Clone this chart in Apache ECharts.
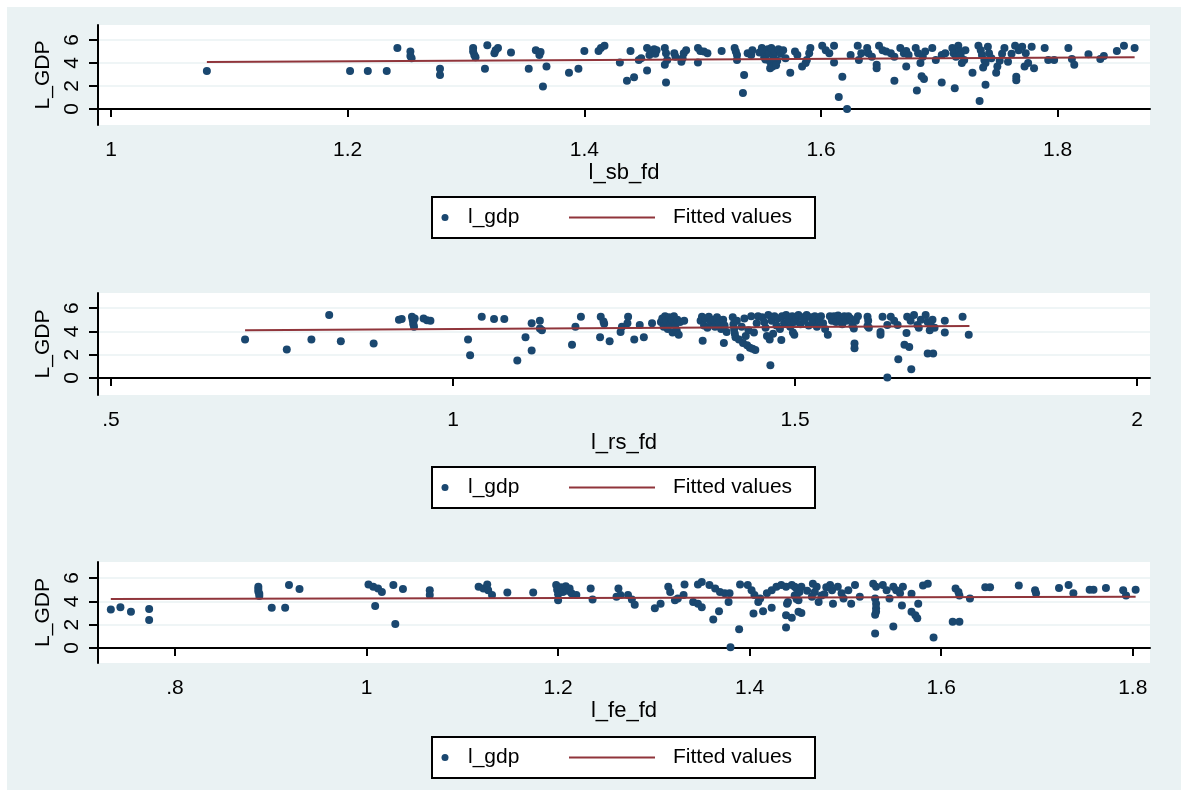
<!DOCTYPE html>
<html>
<head>
<meta charset="utf-8">
<script src="https://cdn.jsdelivr.net/npm/echarts@6/dist/echarts.min.js"></script>
<style>
  html, body { margin: 0; padding: 0; background: #fff; }
  #main { width: 1181px; height: 790px; }
</style>
</head>
<body>
<div id="main"></div>
<script>
// l_gdp against l_sb_fd
const sbPoints = [
  [1.081,3.3],[1.202,3.3],[1.217,3.3],[1.233,3.3],[1.242,5.3],
  [1.253,5.0],[1.253,4.6],[1.254,4.4],[1.278,3.5],[1.278,2.95],
  [1.306,5.3],[1.306,5.0],[1.307,4.7],[1.308,4.5],[1.316,3.5],[1.318,5.55],
  [1.324,4.85],[1.325,5.1],[1.327,5.3],[1.338,4.9],[1.353,3.5],[1.359,5.1],
  [1.362,4.7],[1.363,4.95],[1.365,1.95],[1.368,3.7],[1.387,3.15],[1.395,3.5],
  [1.400,5.05],[1.412,5.05],[1.414,5.3],[1.417,5.5],[1.430,4.05],[1.436,2.45],
  [1.439,5.05],[1.442,2.75],[1.446,4.25],[1.448,4.4],[1.453,3.35],[1.453,5.3],
  [1.455,4.7],[1.457,5.0],[1.459,5.2],[1.460,4.8],[1.461,5.1],[1.468,5.3],
  [1.469,4.85],[1.470,4.25],[1.468,3.85],[1.469,2.3],[1.476,4.85],[1.477,4.55],
  [1.482,4.1],[1.483,4.4],[1.484,4.85],[1.486,5.1],[1.496,5.3],[1.498,5.05],
  [1.501,5.0],[1.504,4.85],[1.496,4.05],[1.516,5.05],[1.527,5.3],[1.528,5.0],
  [1.529,4.7],[1.529,4.25],[1.534,1.4],[1.535,2.95],[1.538,4.85],[1.541,4.7],
  [1.542,5.1],[1.548,4.9],[1.550,5.3],[1.551,5.0],[1.552,4.5],[1.553,4.3],
  [1.555,5.2],[1.556,4.8],[1.557,4.1],[1.558,5.3],[1.560,4.6],[1.561,5.0],
  [1.563,4.2],[1.564,5.2],[1.566,4.8],[1.568,5.1],[1.570,4.4],[1.557,3.55],
  [1.559,3.7],[1.562,3.8],[1.574,3.15],[1.578,5.0],[1.580,4.7],[1.584,3.7],
  [1.587,4.0],[1.588,4.25],[1.590,4.85],[1.591,5.3],[1.601,5.5],[1.604,5.1],
  [1.607,4.85],[1.611,5.5],[1.611,4.05],[1.615,1.05],[1.618,2.8],[1.622,0.0],
  [1.625,4.7],[1.631,5.5],[1.632,4.25],[1.634,4.85],[1.639,5.3],[1.640,4.85],
  [1.643,4.55],[1.647,3.85],[1.647,3.55],[1.649,5.5],[1.652,5.1],[1.655,5.0],
  [1.659,4.85],[1.662,4.55],[1.662,2.45],[1.667,5.3],[1.670,4.85],[1.672,5.05],
  [1.674,4.7],[1.672,3.7],[1.681,1.6],[1.680,5.3],[1.682,4.85],[1.684,4.0],
  [1.686,4.55],[1.688,5.0],[1.694,5.3],[1.685,2.85],[1.687,2.6],[1.697,4.25],
  [1.702,4.7],[1.705,4.85],[1.702,2.3],[1.713,1.8],[1.711,5.3],[1.712,4.85],
  [1.714,4.55],[1.716,5.5],[1.717,5.0],[1.718,4.7],[1.719,4.0],[1.721,4.25],
  [1.722,5.1],[1.728,3.15],[1.734,0.7],[1.739,2.1],[1.733,5.5],[1.735,5.1],
  [1.736,4.7],[1.738,4.25],[1.739,4.0],[1.741,5.4],[1.742,4.85],[1.744,4.4],
  [1.737,3.6],[1.748,3.15],[1.749,3.7],[1.751,4.2],[1.753,4.8],[1.755,5.3],
  [1.758,4.1],[1.761,4.8],[1.765,2.8],[1.765,2.5],[1.764,5.5],[1.767,5.1],
  [1.770,5.4],[1.773,4.85],[1.772,3.7],[1.775,4.0],[1.778,5.4],[1.780,3.55],
  [1.789,5.3],[1.792,4.25],[1.797,4.25],[1.809,5.3],[1.812,4.35],[1.814,3.85],
  [1.826,4.75],[1.836,4.35],[1.839,4.6],[1.850,5.05],[1.856,5.5],[1.865,5.3]
];

// l_gdp against l_rs_fd
const rsPoints = [
  [0.696,3.3],[0.757,2.45],[0.793,3.3],[0.819,5.4],[0.836,3.15],[0.884,2.95],
  [0.921,5.0],[0.925,5.05],[0.940,5.25],[0.941,5.0],[0.942,4.8],[0.942,4.6],
  [0.943,4.4],[0.944,5.1],[0.957,5.1],[0.962,4.95],[0.967,4.9],[1.022,3.3],
  [1.025,1.95],[1.042,5.25],[1.060,5.05],[1.075,5.05],[1.094,1.5],[1.106,3.5],
  [1.115,2.35],[1.115,4.7],[1.127,4.9],[1.127,4.25],[1.130,4.1],[1.174,2.85],
  [1.179,4.4],[1.187,5.25],[1.215,3.5],[1.216,5.25],[1.220,4.85],[1.221,4.65],
  [1.229,3.15],[1.245,3.95],[1.247,4.4],[1.256,5.25],[1.255,4.7],[1.265,3.3],
  [1.273,4.55],[1.279,3.5],[1.291,4.7],[1.304,4.8],[1.306,5.1],[1.308,4.4],
  [1.310,5.3],[1.312,4.9],[1.314,4.2],[1.316,5.2],[1.318,4.6],[1.320,5.0],
  [1.321,3.9],[1.323,5.3],[1.325,4.5],[1.327,4.1],[1.328,5.0],[1.330,3.7],
  [1.332,4.8],[1.338,4.9],[1.365,3.2],[1.362,4.9],[1.364,5.25],[1.367,4.5],
  [1.369,5.1],[1.372,4.3],[1.374,5.25],[1.377,4.8],[1.380,5.0],[1.383,4.4],
  [1.386,5.2],[1.389,4.7],[1.392,4.2],[1.395,5.0],[1.397,4.5],[1.400,3.95],
  [1.396,3.0],[1.409,5.2],[1.410,4.6],[1.411,4.2],[1.412,3.8],[1.413,3.5],
  [1.415,4.9],[1.418,3.3],[1.420,1.75],[1.422,4.4],[1.424,3.0],[1.426,5.1],
  [1.428,3.6],[1.430,2.8],[1.432,4.1],[1.434,2.6],[1.436,5.3],[1.438,2.5],
  [1.440,3.9],[1.442,2.4],[1.444,4.7],[1.446,5.3],[1.464,1.1],[1.452,5.2],
  [1.455,4.8],[1.457,4.3],[1.459,3.6],[1.461,5.4],[1.463,3.3],[1.466,4.9],
  [1.468,3.8],[1.470,5.3],[1.473,4.5],[1.475,5.1],[1.478,4.2],[1.480,3.25],
  [1.481,5.3],[1.484,4.7],[1.487,5.4],[1.490,5.0],[1.493,4.4],[1.496,5.3],
  [1.497,3.9],[1.499,3.7],[1.499,4.8],[1.502,5.1],[1.505,5.4],[1.508,4.6],
  [1.511,5.2],[1.514,4.9],[1.517,5.4],[1.520,4.5],[1.523,5.2],[1.526,4.8],
  [1.529,5.3],[1.532,4.4],[1.535,5.0],[1.538,5.3],[1.541,4.7],[1.544,4.2],
  [1.548,3.7],[1.551,5.3],[1.554,4.9],[1.557,5.3],[1.560,4.8],[1.563,5.35],
  [1.566,5.0],[1.569,4.6],[1.572,5.3],[1.575,4.9],[1.578,5.3],[1.581,5.1],
  [1.584,4.5],[1.586,4.25],[1.587,2.95],[1.587,2.55],[1.589,4.9],[1.592,5.3],
  [1.606,5.25],[1.607,4.9],[1.606,4.45],[1.608,4.3],[1.625,3.95],[1.625,3.7],
  [1.628,5.25],[1.635,4.55],[1.640,5.25],[1.645,4.9],[1.650,4.55],[1.651,1.6],
  [1.635,0.05],[1.660,2.85],[1.667,2.65],[1.670,0.75],[1.663,3.85],[1.664,5.25],
  [1.669,4.9],[1.674,5.4],[1.679,4.55],[1.681,4.3],[1.684,5.0],[1.691,5.4],
  [1.694,4.8],[1.699,4.45],[1.697,4.1],[1.701,5.0],[1.704,4.3],[1.694,2.1],
  [1.702,2.1],[1.719,4.9],[1.719,3.9],[1.745,5.25],[1.754,3.7]
];

// l_gdp against l_fe_fd
const fePoints = [
  [0.733,3.3],[0.743,3.5],[0.754,3.1],[0.773,3.35],[0.773,2.4],
  [0.887,5.25],[0.887,5.05],[0.887,4.85],[0.888,4.65],[0.888,4.45],
  [0.901,3.45],[0.915,3.45],[0.919,5.4],[0.930,5.05],[1.002,5.45],[1.007,5.25],
  [1.012,5.1],[1.016,4.8],[1.009,3.6],[1.028,5.4],[1.030,2.05],[1.038,5.05],
  [1.066,4.95],[1.066,4.55],[1.117,5.25],[1.122,5.1],[1.126,5.45],[1.127,4.95],
  [1.131,4.55],[1.147,4.75],[1.174,4.75],[1.198,5.4],[1.199,5.0],[1.200,4.6],
  [1.200,4.1],[1.203,5.2],[1.205,4.8],[1.208,5.3],[1.210,4.9],[1.212,5.1],
  [1.214,4.7],[1.219,4.55],[1.234,5.1],[1.236,4.15],[1.263,5.1],[1.261,4.4],
  [1.265,4.55],[1.273,4.55],[1.277,4.15],[1.280,3.7],[1.301,3.4],[1.307,3.8],
  [1.315,5.25],[1.317,4.8],[1.322,4.1],[1.325,4.25],[1.331,4.55],[1.332,5.45],
  [1.341,3.95],[1.346,3.8],[1.350,3.5],[1.346,5.45],[1.350,5.65],[1.358,5.4],
  [1.364,5.1],[1.369,4.8],[1.374,4.7],[1.379,4.7],[1.378,3.95],[1.362,2.45],
  [1.368,3.15],[1.389,1.6],[1.380,0.05],[1.390,5.45],[1.398,5.4],[1.402,4.95],
  [1.405,4.55],[1.409,3.95],[1.411,4.25],[1.404,2.95],[1.414,3.15],[1.423,3.45],
  [1.418,4.7],[1.423,4.95],[1.428,5.25],[1.433,5.4],[1.438,5.25],[1.440,3.95],
  [1.438,2.8],[1.444,2.6],[1.438,1.75],[1.447,5.25],[1.449,4.55],[1.451,3.1],
  [1.444,5.4],[1.449,5.1],[1.452,4.8],[1.454,5.25],[1.447,4.5],[1.451,4.1],
  [1.466,5.5],[1.470,5.25],[1.468,4.8],[1.465,4.4],[1.472,3.95],[1.475,4.5],
  [1.484,5.4],[1.486,4.95],[1.487,3.8],[1.492,5.25],[1.496,4.7],[1.498,4.25],
  [1.503,4.95],[1.506,3.8],[1.510,5.4],[1.515,4.4],[1.439,3.8],[1.454,3.0],
  [1.449,4.2],[1.460,4.9],[1.478,4.6],[1.480,5.2],[1.529,5.5],[1.532,5.25],
  [1.531,4.25],[1.532,3.8],[1.532,3.4],[1.531,2.85],[1.532,3.1],[1.531,1.25],
  [1.539,5.4],[1.543,4.95],[1.546,4.25],[1.550,5.25],[1.553,4.95],[1.557,4.7],
  [1.560,5.25],[1.550,1.85],[1.559,3.65],[1.569,3.1],[1.573,2.8],[1.575,2.55],
  [1.576,3.8],[1.569,4.65],[1.581,5.35],[1.586,5.5],[1.592,0.9],[1.612,2.25],
  [1.619,2.25],[1.615,5.1],[1.618,4.8],[1.619,4.5],[1.630,4.25],[1.646,5.2],
  [1.651,5.2],[1.681,5.35],[1.698,4.95],[1.699,4.7],[1.723,5.15],[1.733,5.4],
  [1.738,4.7],[1.755,5.0],[1.759,5.0],[1.772,5.15],[1.790,4.95],[1.793,4.5],
  [1.803,5.0]
];

// fitted values (end points of each regression line)
const sbFit = [[1.081, 4.08], [1.865, 4.5]];
const rsFit = [[0.696, 4.1], [1.755, 4.46]];
const feFit = [[0.733, 4.2], [1.803, 4.4]];

const sbTicks = [1, 1.2, 1.4, 1.6, 1.8];
const rsTicks = [0.5, 1, 1.5, 2];
const feTicks = [0.8, 1, 1.2, 1.4, 1.6, 1.8];
const yTicks = [0, 2, 4, 6];
const xNames = ['l_sb_fd', 'l_rs_fd', 'l_fe_fd'];
const legendNames = ['l_gdp', 'Fitted values'];

const NAVY = '#1a476f';
const MAROON = '#90353b';
const BG = '#eaf2f3';
const FONT = '"Liberation Sans", Arial, sans-serif';

const panels = [
  { pts: sbPoints, fit: sbFit, ticks: sbTicks, top: 25, height: 100, xmin: 0.989, xmax: 1.878, ymin: -1.39, ymax: 7.30, legendTop: 197 },
  { pts: rsPoints, fit: rsFit, ticks: rsTicks, top: 293, height: 102, xmin: 0.481, xmax: 2.019, ymin: -1.46, ymax: 7.29, legendTop: 467 },
  { pts: fePoints, fit: feFit, ticks: feTicks, top: 562, height: 101, xmin: 0.7196, xmax: 1.818, ymin: -1.29, ymax: 7.37, legendTop: 737 }
];

function fmt(v) {
  return String(+v.toFixed(2)).replace(/^0\./, '.');
}

const axisLine = { lineStyle: { color: '#000', width: 2 } };
const tickText = { color: '#000', fontSize: 21, fontFamily: FONT };
const titleText = { color: '#000', fontSize: 22, fontFamily: FONT };

const grid = [], xAxis = [], yAxis = [], series = [], graphic = [];

graphic.push({
  type: 'rect', z: -10, silent: true,
  shape: { x: 7, y: 7, width: 1174, height: 783 },
  style: { fill: BG }
});

panels.forEach(function (p, i) {
  grid.push({
    left: 98, right: 31, top: p.top, height: p.height,
    show: true, backgroundColor: '#fff', borderWidth: 0
  });
  xAxis.push({
    type: 'value', gridIndex: i, min: p.xmin, max: p.xmax,
    axisLine: axisLine,
    axisTick: { length: 8, customValues: p.ticks, lineStyle: { color: '#000', width: 2 } },
    axisLabel: Object.assign({ customValues: p.ticks, margin: 15, formatter: fmt }, tickText),
    splitLine: { show: false },
    name: xNames[i], nameLocation: 'middle', nameGap: 36,
    nameTextStyle: titleText
  });
  yAxis.push({
    type: 'value', gridIndex: i, min: p.ymin, max: p.ymax,
    axisLine: Object.assign({ show: true }, axisLine),
    axisTick: { show: true, length: 9, customValues: yTicks, lineStyle: { color: '#000', width: 2 } },
    axisLabel: Object.assign({ customValues: yTicks, rotate: 90, margin: 15 }, tickText),
    splitLine: { show: true, lineStyle: { color: BG, width: 1.5 } },
    name: 'L_GDP', nameLocation: 'middle', nameRotate: 90, nameGap: 42,
    nameTextStyle: tickText
  });
  series.push({
    name: legendNames[0], type: 'scatter', xAxisIndex: i, yAxisIndex: i,
    symbol: 'circle', symbolSize: 8, itemStyle: { color: NAVY, opacity: 1 },
    data: p.pts
  });
  series.push({
    name: legendNames[1], type: 'line', xAxisIndex: i, yAxisIndex: i,
    showSymbol: false, lineStyle: { color: MAROON, width: 2 },
    data: p.fit
  });

  // legend box
  const y = p.legendTop, h = 41, mid = y + h / 2;
  graphic.push({ type: 'rect', z: 10, shape: { x: 432, y: y, width: 383, height: h },
    style: { fill: '#fff', stroke: '#000', lineWidth: 2 } });
  graphic.push({ type: 'circle', z: 11, shape: { cx: 445, cy: mid, r: 3.5 }, style: { fill: NAVY } });
  graphic.push({ type: 'text', z: 11, x: 468, y: mid,
    style: { text: legendNames[0], fill: '#000', font: '21px ' + FONT, textVerticalAlign: 'middle' } });
  graphic.push({ type: 'line', z: 11, shape: { x1: 569, y1: mid, x2: 655, y2: mid },
    style: { stroke: MAROON, lineWidth: 2 } });
  graphic.push({ type: 'text', z: 11, x: 673, y: mid,
    style: { text: legendNames[1], fill: '#000', font: '21px ' + FONT, textVerticalAlign: 'middle' } });
});

const chart = echarts.init(document.getElementById('main'));
chart.setOption({
  animation: false,
  backgroundColor: '#fff',
  grid: grid,
  xAxis: xAxis,
  yAxis: yAxis,
  series: series,
  graphic: graphic
});
</script>
</body>
</html>
